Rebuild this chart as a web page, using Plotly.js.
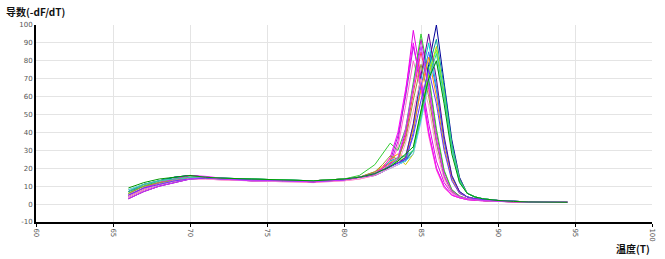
<!DOCTYPE html>
<html><head><meta charset="utf-8">
<script src="https://cdn.plot.ly/plotly-3.0.1.min.js"></script>
<style>html,body{margin:0;padding:0;background:#fff;}#chart{width:665px;height:259px;}</style>
</head><body><div id="chart"></div>
<script>
// Temperature (°C) sample points
const temps = [66, 67, 68, 69, 70, 71, 72, 74, 76, 78, 80, 81, 82, 82.5, 83, 83.5, 84, 84.5, 85, 85.5, 86, 86.5, 87, 87.5, 88, 88.5, 89, 90, 91, 92, 94.5];

// Derivative curves (-dF/dT), one per well
const well01 = [4, 8, 11, 13, 15, 15, 14, 13, 13, 12.5, 13.5, 15, 17, 19, 22, 35, 62, 97, 72, 45, 24, 12, 6, 4, 3, 2.5, 2, 1.5, 1.5, 1.2, 1];
const well02 = [6, 10, 12, 14, 16, 15, 14, 13.5, 13, 13, 14, 15, 18, 20, 24, 38, 60, 88, 68, 40, 20, 10, 5, 3.5, 2.5, 2, 2, 1.5, 1.2, 1, 1];
const well03 = [3, 7, 10, 12, 14, 14, 13.5, 13, 12.5, 12, 13, 14, 16, 18, 21, 32, 55, 80, 64, 38, 19, 9, 5, 3.5, 2.5, 2, 1.8, 1.5, 1.2, 1, 1];
const well04 = [5, 9, 12, 14, 15, 15, 14, 13.5, 13, 12.5, 13.5, 15, 17, 19, 22, 25, 40, 66, 92, 70, 40, 18, 8, 4.5, 3, 2.5, 2, 1.5, 1.5, 1.2, 1];
const well05 = [8, 11, 13, 15, 16, 15, 14.5, 14, 13.5, 13, 14, 16, 22, 28, 34, 30, 42, 68, 95, 72, 42, 19, 8, 4.5, 3, 2.5, 2, 1.5, 1.5, 1.2, 1];
const well06 = [7, 11, 13, 15, 16, 15, 14.5, 14, 13.5, 13, 14, 15, 17, 19, 21, 23, 25, 30, 50, 78, 100, 68, 36, 15, 6, 4, 3, 2, 1.5, 1.2, 1];
const well07 = [5, 9, 12, 14, 15, 15, 14, 13.5, 13, 13, 14, 15, 17, 20, 24, 26, 27, 44, 70, 90, 66, 36, 16, 7, 4, 3, 2.5, 2, 1.5, 1.2, 1];
const well08 = [4, 8, 11, 13, 14, 14.5, 14, 13, 13, 12.5, 13.5, 15, 16, 18, 20, 22, 24, 40, 66, 85, 64, 35, 15, 7, 4, 3, 2.5, 2, 1.5, 1.2, 1];
const well09 = [6, 10, 12, 14, 15, 15, 14, 13.5, 13, 13, 14, 15, 17, 20, 23, 26, 22, 28, 48, 72, 88, 62, 33, 14, 6, 4, 3, 2, 1.5, 1.2, 1];
const well10 = [5, 9, 12, 14, 15, 15, 14, 13.5, 13, 13, 14, 15, 18, 21, 25, 28, 26, 42, 64, 82, 60, 32, 14, 6, 4, 3, 2.5, 2, 1.5, 1.2, 1];
const well11 = [7, 10, 13, 15, 16, 15, 14.5, 14, 13.5, 13, 14, 15, 17, 19, 21, 23, 24, 30, 52, 76, 92, 66, 34, 14, 6, 4, 3, 2, 1.5, 1.2, 1];
const well12 = [4, 8, 11, 13, 15, 15, 14, 13, 13, 12.5, 13.5, 15, 17, 20, 23, 24, 38, 62, 85, 64, 36, 16, 7, 4, 3, 2.5, 2, 1.5, 1.5, 1.2, 1];
const well13 = [6, 10, 12, 14, 15, 15, 14, 14, 13.5, 13, 14, 15, 17, 19, 22, 24, 26, 30, 50, 74, 86, 62, 32, 13, 6, 4, 3, 2, 1.5, 1.2, 1];
const well14 = [3, 7, 10, 12, 14, 14.5, 14, 13.5, 13, 12.5, 13.5, 15, 16, 18, 21, 23, 26, 45, 72, 95, 70, 38, 16, 7, 4, 3, 2.5, 2, 1.5, 1.2, 1];
const well15 = [8, 11, 13, 14, 15, 15, 14, 13.5, 13, 13, 14, 15, 17, 18, 20, 22, 24, 28, 46, 68, 80, 58, 30, 12, 6, 4, 3, 2, 1.5, 1.2, 1];
const well16 = [5, 9, 12, 14, 16, 15.5, 14.5, 13.5, 13, 12.5, 13.5, 15, 17, 20, 26, 40, 64, 90, 66, 40, 20, 10, 5, 3.5, 2.5, 2, 1.8, 1.5, 1.2, 1, 1];
const well17 = [6, 10, 12, 13, 14, 14.5, 14, 13.5, 13, 13, 14, 15, 18, 22, 27, 25, 36, 58, 78, 60, 34, 15, 7, 4, 3, 2.5, 2, 1.5, 1.5, 1.2, 1];
const well18 = [4, 8, 11, 13, 14, 14, 13.5, 13, 12.5, 12.5, 13, 14, 16, 18, 20, 22, 34, 52, 70, 55, 30, 14, 6, 4, 3, 2.5, 2, 1.5, 1.5, 1.2, 1];
const well19 = [7, 11, 13, 14, 15, 15, 14.5, 14, 13.5, 13, 14, 15, 17, 19, 22, 25, 27, 30, 48, 70, 84, 60, 32, 13, 6, 4, 3, 2, 1.5, 1.2, 1];
const well20 = [5, 9, 11, 13, 14, 14.5, 14, 13.5, 13, 12.5, 13.5, 15, 17, 19, 21, 23, 25, 38, 58, 75, 56, 30, 13, 6, 4, 3, 2.5, 2, 1.5, 1.2, 1];
const well21 = [3, 7, 10, 12, 14, 15, 14, 13, 13, 12.5, 13.5, 15, 17, 19, 22, 26, 42, 66, 88, 66, 36, 16, 7, 4, 3, 2.5, 2, 1.5, 1.5, 1.2, 1];
const well22 = [9, 12, 14, 15, 16, 15, 14.5, 14, 13.5, 13, 14, 15, 17, 19, 21, 24, 28, 32, 52, 70, 80, 56, 28, 12, 6, 4, 3, 2, 1.5, 1.2, 1];

const wells = [well01, well02, well03, well04, well05, well06, well07, well08, well09, well10, well11,
               well12, well13, well14, well15, well16, well17, well18, well19, well20, well21, well22];
const colors = ['#e600e6', '#9933cc', '#ff66cc', '#cc00cc', '#33cc33', '#000099', '#00cccc', '#3366ff',
                '#cccc00', '#ff9900', '#009999', '#ff3366', '#66ff33', '#660099', '#66ccff', '#ff00ff',
                '#999933', '#ff99cc', '#33cc99', '#6633ff', '#cc33ff', '#009900'];

const xTicks = [60, 65, 70, 75, 80, 85, 90, 95, 100];
const yTicks = [-10, 0, 10, 20, 30, 40, 50, 60, 70, 80, 90, 100];

const traces = wells.map((w, i) => ({
  x: temps, y: w, type: 'scatter', mode: 'lines',
  line: {color: colors[i], width: 1}, hoverinfo: 'skip'
}));

const layout = {
  width: 665, height: 259,
  margin: {l: 36, r: 13, t: 25, b: 37},
  paper_bgcolor: '#fff', plot_bgcolor: '#fff',
  showlegend: false,
  font: {family: 'DejaVu Sans, sans-serif', size: 7, color: '#444'},
  xaxis: {
    range: [60, 100], tickvals: xTicks, ticktext: xTicks.map(String), tickangle: 90,
    showgrid: true, gridcolor: '#e4e4e4', gridwidth: 1,
    showline: true, linecolor: '#000', linewidth: 2,
    ticks: 'outside', ticklen: 3, tickcolor: '#000',
    zeroline: false, tickfont: {size: 7, color: '#555'}
  },
  yaxis: {
    range: [-10, 100], tickvals: yTicks, ticktext: yTicks.map(String),
    showgrid: true, gridcolor: '#e4e4e4', gridwidth: 1,
    showline: true, linecolor: '#000', linewidth: 2,
    ticks: '', zeroline: false, tickfont: {size: 7, color: '#555'}
  },
  annotations: [
    {text: '<b>导数(-dF/dT)</b>', xref: 'paper', yref: 'paper', x: -0.052, y: 1.0, yshift: 14,
     xanchor: 'left', yanchor: 'middle', showarrow: false,
     font: {family: 'Noto Sans CJK SC', size: 10, color: '#111'}},
    {text: '<b>温度(T)</b>', xref: 'paper', yref: 'paper', x: 1.0, y: 0, yshift: -26,
     xanchor: 'right', yanchor: 'middle', showarrow: false,
     font: {family: 'Noto Sans CJK SC', size: 10, color: '#111'}}
  ]
};

Plotly.newPlot('chart', traces, layout, {staticPlot: true, displayModeBar: false});
</script>
</body></html>
